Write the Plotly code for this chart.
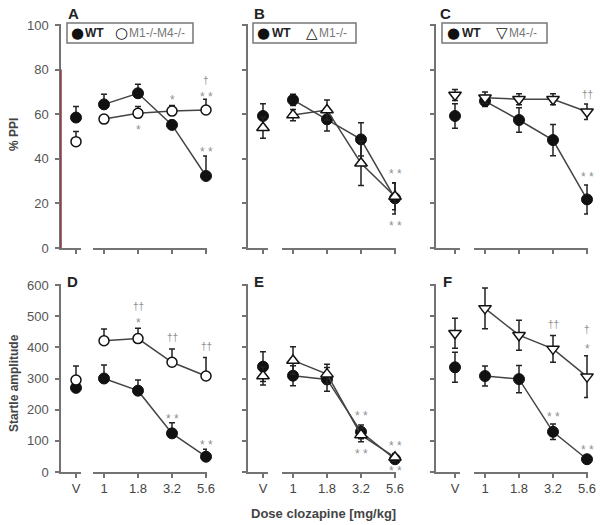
import plotly.graph_objects as go

# ---------------- data ----------------
categories = ["V", "1", "1.8", "3.2", "5.6"]

# %PPI (top row)
ppiA_wt = [58.5, 64.4, 69.4, 55.2, 32.3]
ppiA_wt_err = [5, 4.5, 4, 2, 9]
ppiA_ko = [47.7, 57.8, 60.4, 61.4, 61.9]
ppiA_ko_err = [4.5, 2, 3, 2.5, 4.8]

ppiB_wt = [59.2, 66.4, 57.7, 48.7, 22.3]
ppiB_wt_err = [5.5, 2.5, 5.2, 7.5, 7]
ppiB_ko = [53.9, 59.6, 61.9, 38.0, 23.1]
ppiB_ko_err = [4.7, 2.5, 4.5, 10, 6]

ppiC_wt = [59.2, 65.9, 57.4, 48.4, 21.8]
ppiC_wt_err = [5.5, 2.5, 5.5, 7, 6.5]
ppiC_ko = [68.6, 67.4, 66.7, 66.7, 61.1]
ppiC_ko_err = [2.5, 2.5, 2.5, 2.5, 3.5]

# Startle amplitude (bottom row)
stD_wt = [270, 300, 261, 124, 49]
stD_wt_err = [15, 43, 34, 34, 24]
stD_ko = [295, 421, 428, 352, 308]
stD_ko_err = [45, 38, 33, 43, 59]

stE_wt = [338, 309, 297, 129, 41]
stE_wt_err = [48, 32, 38, 22, 10]
stE_ko = [308, 358, 314, 119, 47]
stE_ko_err = [29, 44, 32, 22, 12]

stF_wt = [336, 308, 298, 129, 41]
stF_wt_err = [48, 32, 44, 25, 8]
stF_ko = [445, 525, 439, 395, 306]
stF_ko_err = [48, 65, 48, 43, 67]

ko_names = ["M1-/-M4-/-", "M1-/-", "M4-/-"]
ko_glyphs = ["○", "△", "▽"]
panel_letters = ["A", "B", "C", "D", "E", "F"]
ppi_ticks = [0, 20, 40, 60, 80, 100]
startle_ticks = [0, 100, 200, 300, 400, 500, 600]

# significance marks: (panel index, dose, value level, text)
sig_marks = [
    (0, "1.8", 54.3, "*"), (0, "3.2", 67.7, "*"), (0, "5.6", 69.0, "* *"),
    (0, "5.6", 74.9, "†"), (0, "5.6", 44.4, "* *"),
    (1, "5.6", 34.5, "* *"), (1, "5.6", 11.3, "* *"),
    (2, "5.6", 68.9, "††"), (2, "5.6", 33.2, "* *"),
    (3, "1.8", 530, "††"), (3, "1.8", 488, "*"), (3, "3.2", 432, "††"),
    (3, "3.2", 181, "* *"), (3, "5.6", 402, "††"), (3, "5.6", 97, "* *"),
    (4, "3.2", 188, "* *"), (4, "3.2", 67, "* *"), (4, "5.6", 94, "* *"), (4, "5.6", 12, "* *"),
    (5, "3.2", 472, "††"), (5, "3.2", 186, "* *"), (5, "5.6", 456, "†"),
    (5, "5.6", 405, "*"), (5, "5.6", 81, "* *"),
]

panels = [
    (ppiA_wt, ppiA_wt_err, ppiA_ko, ppiA_ko_err),
    (ppiB_wt, ppiB_wt_err, ppiB_ko, ppiB_ko_err),
    (ppiC_wt, ppiC_wt_err, ppiC_ko, ppiC_ko_err),
    (stD_wt, stD_wt_err, stD_ko, stD_ko_err),
    (stE_wt, stE_wt_err, stE_ko, stE_ko_err),
    (stF_wt, stF_wt_err, stF_ko, stF_ko_err),
]

# ---------------- layout geometry (pixels) ----------------
W, H = 600, 525
FONT = "Liberation Sans, Arial, sans-serif"
AX = "#737373"
cols = [
    dict(X0=61, Vt=76, Vend=81, Ds=93, D1=104, D5=206),
    dict(X0=248, Vt=263, Vend=268, Ds=282, D1=293, D5=395),
    dict(X0=436, Vt=455, Vend=460, Ds=474, D1=485, D5=587),
]
rows = [
    dict(ybot=248, ytop=24, rmax=100 * 224 / 223, ticks=ppi_ticks),
    dict(ybot=472, ytop=284, rmax=600 * 188 / 187, ticks=startle_ticks),
]
ko_symbols = ["circle", "triangle-up", "triangle-down"]
panel_letter_pos = [(73, 14), (259, 14), (445, 14), (72, 281), (259, 281), (447, 281)]


def aid(letter, n):
    return letter if n == 1 else f"{letter}{n}"


fig = go.Figure()
layout = dict(
    width=W, height=H, margin=dict(l=0, r=0, t=0, b=0, pad=0, autoexpand=False),
    autosize=False, plot_bgcolor="white", paper_bgcolor="white", showlegend=False,
    font=dict(family=FONT, color="#444"),
)
annotations = []
shapes = []

common_axis = dict(showline=True, linecolor=AX, linewidth=1.5, ticks="outside", ticklen=4,
                   tickwidth=1.5, tickcolor=AX, showgrid=False, zeroline=False,
                   automargin=False, fixedrange=True)

for p in range(6):
    r, c = divmod(p, 3)
    cg, rg = cols[c], rows[r]
    xv, xd, yy = aid("x", 2 * p + 1), aid("x", 2 * p + 2), aid("y", p + 1)
    kv, kd, ky = aid("xaxis", 2 * p + 1), aid("xaxis", 2 * p + 2), aid("yaxis", p + 1)
    ydom = [1 - rg["ybot"] / H, 1 - rg["ytop"] / H]
    bottom = (r == 1)

    wv = cg["Vend"] - cg["X0"]
    layout[kv] = dict(
        domain=[cg["X0"] / W, cg["Vend"] / W], anchor=yy, type="category",
        categoryarray=categories[:1], categoryorder="array",
        range=[-(cg["Vt"] - cg["X0"]) / wv, (cg["Vend"] - cg["Vt"]) / wv],
        showticklabels=bottom, tickfont=dict(size=13, color="#444"), **common_axis,
    )
    s = (cg["D5"] - cg["D1"]) / 3
    dend = cg["D5"] + 1
    layout[kd] = dict(
        domain=[cg["Ds"] / W, dend / W], anchor=yy, type="category",
        categoryarray=categories[1:], categoryorder="array",
        range=[-(cg["D1"] - cg["Ds"]) / s, 3 + (dend - cg["D5"]) / s],
        showticklabels=bottom, tickfont=dict(size=13, color="#444"), **common_axis,
    )
    layout[ky] = dict(
        domain=ydom, anchor=xv, range=[0, rg["rmax"]], tickvals=rg["ticks"],
        showticklabels=(c == 0), tickfont=dict(size=13, color="#555"),
        ticklabelstandoff=4, **common_axis,
    )

    wt, wt_err, ko, ko_err = panels[p]
    one_sided = (c == 0)
    zeros = [0] * len(categories)

    def err(e, sl):
        if one_sided:
            return dict(type="data", symmetric=False, array=e[sl], arrayminus=zeros[sl],
                        color="#222", thickness=1.5, width=3)
        return dict(type="data", array=e[sl], color="#222", thickness=1.5, width=3)

    series = [
        (wt, wt_err, dict(symbol="circle", size=11, color="#111",
                          line=dict(color="#111", width=1))),
        (ko, ko_err, dict(symbol=ko_symbols[c], size=10 if c == 0 else 11, color="white",
                          line=dict(color="#111", width=1.5))),
    ]
    for vals, e, mk in series:
        fig.add_trace(go.Scatter(
            x=categories[:1], y=vals[:1], xaxis=xv, yaxis=yy, mode="markers",
            marker=mk, error_y=err(e, slice(0, 1)), cliponaxis=False, hoverinfo="skip"))
        fig.add_trace(go.Scatter(
            x=categories[1:], y=vals[1:], xaxis=xd, yaxis=yy, mode="lines+markers",
            line=dict(color="#444", width=1.5), marker=mk,
            error_y=err(e, slice(1, None)), cliponaxis=False, hoverinfo="skip"))

    lx, ly = panel_letter_pos[p]
    annotations.append(dict(
        text=f"<b>{panel_letters[p]}</b>", x=lx / W, y=1 - ly / H, xref="paper", yref="paper",
        xanchor="center", yanchor="middle", showarrow=False,
        font=dict(size=15, color="#222", family=FONT)))

# maroon lower part of panel A y-axis
shapes.append(dict(type="line", xref="x domain", yref="y", x0=0, x1=0, y0=0, y1=80,
                   line=dict(color="#8b3a48", width=1.5)))

# significance marks (category index on the dose axis)
dose_cats = categories[1:]
for p, dose, lvl, txt in sig_marks:
    star = "*" in txt
    annotations.append(dict(
        text=txt, x=dose_cats.index(dose), y=lvl, xref=aid("x", 2 * p + 2),
        yref=aid("y", p + 1), showarrow=False, xanchor="center", yanchor="middle",
        yshift=-3 if star else 0,
        font=dict(size=12 if star else 10, color="#8f8f8f", family=FONT)))

# legends (box + glyph + label texts)
legend_boxes = [(67, 193), (253, 356), (442, 547)]
legend_wt_glyph_x = [77, 263, 453]
legend_wt_text_x = [84, 271, 461]
legend_ko_glyph_x = [121, 312, 502]
legend_ko_text_x = [128, 318, 508]
for c, (bx0, bx1) in enumerate(legend_boxes):
    shapes.append(dict(type="rect", xref="paper", yref="paper", x0=bx0 / W, x1=bx1 / W,
                       y0=1 - 43 / H, y1=1 - 23 / H, line=dict(color="#777", width=1.5),
                       fillcolor="rgba(0,0,0,0)"))
    for gx, glyph in ((legend_wt_glyph_x[c], "●"), (legend_ko_glyph_x[c], ko_glyphs[c])):
        annotations.append(dict(
            text=glyph, x=gx / W, y=1 - 33 / H, xref="paper", yref="paper", showarrow=False,
            xanchor="center", yanchor="middle", borderpad=0,
            font=dict(size=15, color="#111", family="DejaVu Sans")))
    annotations.append(dict(
        text="<b>WT</b>", x=legend_wt_text_x[c] / W, y=1 - 33 / H, xref="paper",
        yref="paper", showarrow=False, xanchor="left", yanchor="middle", borderpad=0,
        font=dict(size=12, color="#222", family=FONT)))
    annotations.append(dict(
        text=ko_names[c], x=legend_ko_text_x[c] / W, y=1 - 33 / H, xref="paper",
        yref="paper", showarrow=False, xanchor="left", yanchor="middle", borderpad=0,
        font=dict(size=12, color="#777", family=FONT)))

# axis titles
annotations += [
    dict(text="<b>% PPI</b>", x=14 / W, y=1 - 135 / H, xref="paper", yref="paper",
         xanchor="center", yanchor="middle", showarrow=False, textangle=-90,
         font=dict(size=12, color="#444", family=FONT)),
    dict(text="<b>Startle amplitude</b>", x=14 / W, y=1 - 383 / H, xref="paper", yref="paper",
         xanchor="center", yanchor="middle", showarrow=False, textangle=-90,
         font=dict(size=12, color="#444", family=FONT)),
    dict(text="<b>Dose clozapine [mg/kg]</b>", x=323 / W, y=1 - 513 / H, xref="paper",
         yref="paper", xanchor="center", yanchor="middle", showarrow=False,
         font=dict(size=13, color="#444", family=FONT)),
]

layout["annotations"] = annotations
layout["shapes"] = shapes
fig.update_layout(**layout)
fig.write_html(
    "out.html",
    config={"responsive": False, "displayModeBar": False},
    post_script=("document.body.style.margin='0';document.body.style.padding='0';"
                 "document.documentElement.style.overflow='hidden';"),
)
